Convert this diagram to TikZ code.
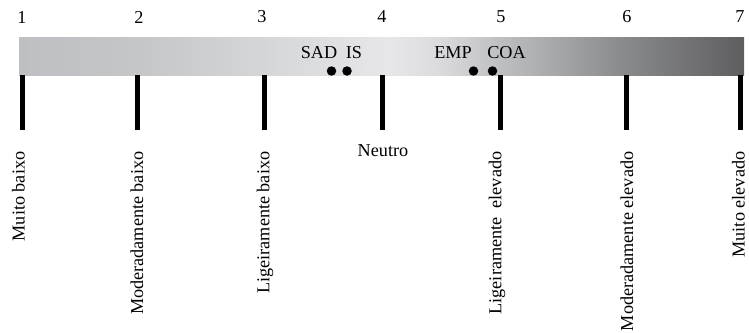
\documentclass[tikz,border=0pt]{standalone}
\usepackage{fontspec}
\setmainfont{Liberation Serif}
\definecolor{g0}{HTML}{BEBFC2}
\definecolor{g1}{HTML}{C5C6C8}
\definecolor{g2}{HTML}{D5D6D8}
\definecolor{g3}{HTML}{E7E7E9}
\definecolor{g4}{HTML}{DBDBDD}
\definecolor{g5}{HTML}{BFC0C2}
\definecolor{g6}{HTML}{8A8B8D}
\definecolor{g7}{HTML}{5E5E60}
\pgfdeclarehorizontalshading{barshade}{100bp}{color(0bp)=(g0); color(25bp)=(g0); color(33.2bp)=(g1); color(41.9bp)=(g2); color(50.5bp)=(g3); color(54bp)=(g4); color(58bp)=(g5); color(66.5bp)=(g6); color(75bp)=(g7); color(100bp)=(g7)}
\begin{document}
\begin{tikzpicture}[x=1pt,y=-1pt,
  txt/.style={font=\fontsize{18.2}{21}\selectfont, inner sep=0pt},
  num/.style={txt},
  vlab/.style={txt, rotate=90, anchor=east},
  tick/.style={line width=5pt, black},
  dot/.style={circle, fill=black, inner sep=0pt, minimum size=9.5pt}]
\useasboundingbox (0,0) rectangle (749,332);
\node[draw=none, shading=barshade, minimum width=725pt, minimum height=38pt, inner sep=0pt, anchor=north west] (bar) at (19,37) {};
% ticks
\foreach \i/\x in {1/22.5,2/137.5,3/264.5,4/382,5/500,6/626.5,7/740.5}{
  \coordinate (t\i a) at (\x,75);
  \coordinate (t\i b) at (\x,130);
  \draw[tick] (t\i a) -- (t\i b);
}
% numbers
\node[num] (n1) at (22,17) {1};
\node[num] (n2) at (139,17) {2};
\node[num] (n3) at (262,17) {3};
\node[num] (n4) at (382,17) {4};
\node[num] (n5) at (501,17) {5};
\node[num] (n6) at (627,17) {6};
\node[num] (n7) at (740,17) {7};
% dots and labels
\node[dot] (dsad) at (331.5,71) {};
\node[dot] (dis) at (347,71) {};
\node[dot] (demp) at (473.5,71) {};
\node[dot] (dcoa) at (492.5,71) {};
\node[txt] (lsad) at (319,52.5) {SAD};
\node[txt] (lis) at (354,52.5) {IS};
\node[txt] (lemp) at (453,52.5) {EMP};
\node[txt] (lcoa) at (506.5,52.5) {COA};
% bottom labels
\node[vlab] (m1) at (18.5,151.5) {Muito baixo};
\node[vlab] (m2) at (137,151.5) {Moderadamente baixo};
\node[vlab] (m3) at (265,151.5) {Ligeiramente baixo};
\node[txt] (m4) at (383,151) {Neutro};
\node[vlab] (m5) at (497,151.5) {Ligeiramente~~elevado};
\node[vlab] (m6) at (627,151.5) {Moderadamente elevado};
\node[vlab] (m7) at (738.5,151.5) {Muito elevado};
\end{tikzpicture}
\end{document}
